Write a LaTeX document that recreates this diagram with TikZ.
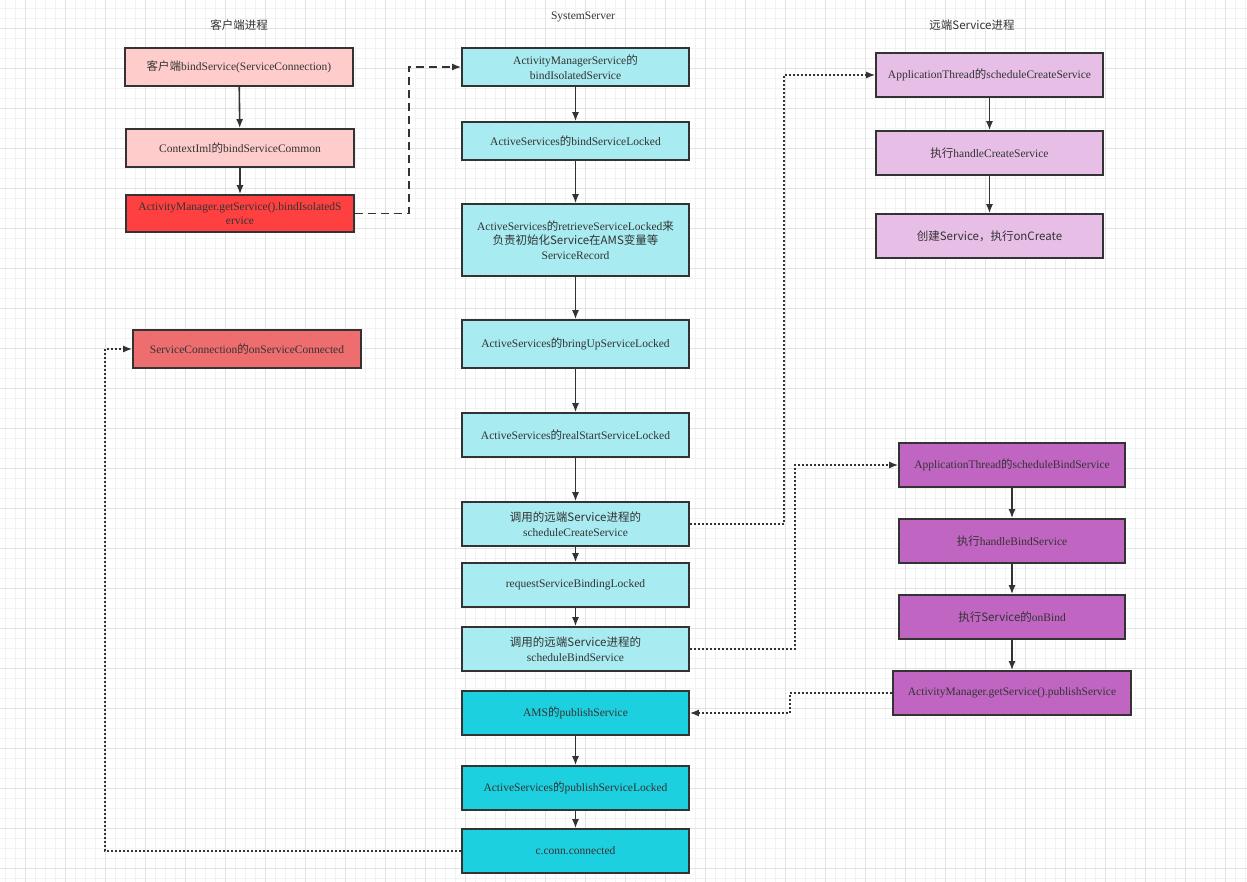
\documentclass[tikz,border=0pt]{standalone}
\usepackage{fontspec}
\setmainfont{Liberation Serif}
\newfontfamily\cjk{Noto Sans CJK SC}
\usetikzlibrary{arrows.meta}
\definecolor{inkgray}{HTML}{333333}
\definecolor{gridminor}{HTML}{F2F2F2}
\definecolor{gridmajor}{HTML}{E2E2E2}
\definecolor{clientpink}{HTML}{FFCCCC}
\definecolor{clientred}{HTML}{FF4040}
\definecolor{clientsalmon}{HTML}{EE6E70}
\definecolor{serverlight}{HTML}{A8EBF0}
\definecolor{serverdark}{HTML}{1CD0DF}
\definecolor{remotelight}{HTML}{E6BEE6}
\definecolor{remotedark}{HTML}{C066C2}
\begin{document}
\begin{tikzpicture}[x=1pt,y=-1pt,
  box/.style={draw=inkgray,line width=1.6pt,text=inkgray,align=center,
    minimum width=227pt,minimum height=44pt,inner sep=2pt,
    font=\fontsize{11.5}{14.5}\selectfont},
  title/.style={text=inkgray,font=\fontsize{11.5}{14}\selectfont},
  flow/.style={draw=inkgray,line width=1.6pt,-{Latex[length=9pt,width=7pt]}},
  dashflow/.style={flow,dash pattern=on 8pt off 5pt},
  dotflow/.style={flow,dash pattern=on 2pt off 2pt}]
  \useasboundingbox (0,0) rectangle (1247,882);
  \fill[white] (0,0) rectangle (1247,882);
  % grid
  \foreach \gx in {5,15,...,1245} \draw[gridminor,line width=0.8pt] (\gx,0) -- (\gx,882);
  \foreach \gy in {8,18,...,878} \draw[gridminor,line width=0.8pt] (0,\gy) -- (1247,\gy);
  \foreach \gx in {25,65,...,1225} \draw[gridmajor,line width=0.8pt] (\gx,0) -- (\gx,882);
  \foreach \gy in {28,68,...,868} \draw[gridmajor,line width=0.8pt] (0,\gy) -- (1247,\gy);

  % titles
  \node[title] (tclient) at (239,25) {\cjk 客户端进程};
  \node[title] (tserver) at (583,17) {SystemServer};
  \node[title] (tremote) at (972,25) {\cjk 远端Service进程};

  % client process
  \node[box,fill=clientpink,minimum width=228pt,minimum height=38pt] (c1) at (239,67)
    {{\cjk 客户端}bindService(ServiceConnection)};
  \node[box,fill=clientpink,minimum width=228pt,minimum height=38pt] (c2) at (240,148)
    {ContextIml{\cjk 的}bindServiceCommon};
  \node[box,fill=clientred,minimum width=228pt,minimum height=37pt] (c3) at (240,213.5)
    {ActivityManager.getService().bindIsolatedS\\ervice};
  \node[box,fill=clientsalmon,minimum width=228pt,minimum height=38pt] (c4) at (247,349)
    {ServiceConnection{\cjk 的}onServiceConnected};

  % system server
  \node[box,fill=serverlight,minimum height=38pt] (s1) at (575.5,67)
    {ActivityManagerService{\cjk 的}\\bindIsolatedService};
  \node[box,fill=serverlight,minimum height=38pt] (s2) at (575.5,141)
    {ActiveServices{\cjk 的}bindServiceLocked};
  \node[box,fill=serverlight,minimum height=72pt] (s3) at (575.5,240)
    {ActiveServices{\cjk 的}retrieveServiceLocked{\cjk 来}\\{\cjk 负责初始化Service在AMS变量等}\\ServiceRecord};
  \node[box,fill=serverlight,minimum height=48pt] (s4) at (575.5,344)
    {ActiveServices{\cjk 的}bringUpServiceLocked};
  \node[box,fill=serverlight] (s5) at (575.5,435)
    {ActiveServices{\cjk 的}realStartServiceLocked};
  \node[box,fill=serverlight] (s6) at (575.5,524)
    {{\cjk 调用的远端Service进程的}\\scheduleCreateService};
  \node[box,fill=serverlight] (s7) at (575.5,585)
    {requestServiceBindingLocked};
  \node[box,fill=serverlight] (s8) at (575.5,649)
    {{\cjk 调用的远端Service进程的}\\scheduleBindService};
  \node[box,fill=serverdark] (s9) at (575.5,713)
    {AMS{\cjk 的}publishService};
  \node[box,fill=serverdark] (s10) at (575.5,788)
    {ActiveServices{\cjk 的}publishServiceLocked};
  \node[box,fill=serverdark] (s11) at (575.5,851)
    {c.conn.connected};

  % remote service process
  \node[box,fill=remotelight] (r1) at (989.5,75)
    {ApplicationThread{\cjk 的}scheduleCreateService};
  \node[box,fill=remotelight] (r2) at (989.5,153)
    {{\cjk 执行}handleCreateService};
  \node[box,fill=remotelight] (r3) at (989.5,236)
    {\cjk 创建Service，执行onCreate};
  \node[box,fill=remotedark,minimum width=226pt] (b1) at (1012,465)
    {ApplicationThread{\cjk 的}scheduleBindService};
  \node[box,fill=remotedark,minimum width=226pt] (b2) at (1012,541)
    {{\cjk 执行}handleBindService};
  \node[box,fill=remotedark,minimum width=226pt] (b3) at (1012,617)
    {{\cjk 执行Service的}onBind};
  \node[box,fill=remotedark,minimum width=238pt] (b4) at (1012,693)
    {ActivityManager.getService().publishService};

  % calls inside each process
  \draw[flow] (c1) -- (c2);
  \draw[flow] (c2) -- (c3);
  \foreach \from/\to in {s1/s2,s2/s3,s3/s4,s4/s5,s5/s6,s6/s7,s7/s8,s9/s10,s10/s11,
    r1/r2,r2/r3,b1/b2,b2/b3,b3/b4}
    \draw[flow] (\from) -- (\to);

  % calls across processes
  \draw[dashflow] (c3.east) -- ++(54,0) |- (s1.west);
  \draw[dotflow] (s6.east) -- ++(94,0) |- (r1.west);
  \draw[dotflow] (s8.east) -- ++(105,0) |- (b1.west);
  \draw[dotflow] (b4.west) -- ++(-102,0) |- (s9.east);
  \draw[dotflow] (s11.west) -- ++(-356,0) |- (c4.west);
\end{tikzpicture}
\end{document}
